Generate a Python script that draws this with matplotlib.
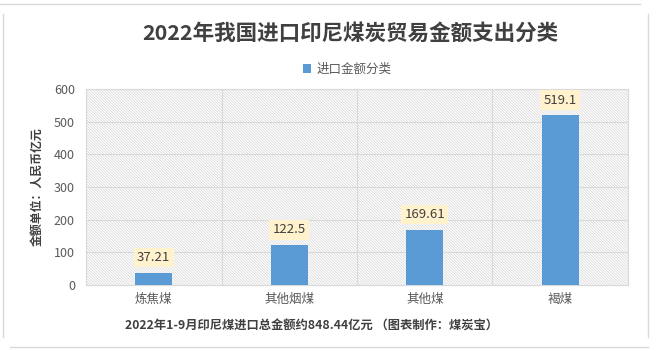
import matplotlib.pyplot as plt
from matplotlib.patches import Rectangle
from matplotlib.lines import Line2D

plt.rcParams['font.family'] = ['Noto Sans CJK SC', 'DejaVu Sans']
plt.rcParams['hatch.linewidth'] = 0.5
plt.rcParams['hatch.color'] = '#d4d4d4'

categories = ['炼焦煤', '其他烟煤', '其他煤', '褐煤']
values = [37.21, 122.5, 169.61, 519.1]
value_labels = ['37.21', '122.5', '169.61', '519.1']
yticks = [0, 100, 200, 300, 400, 500, 600]

W, H = 660, 351
fig = plt.figure(figsize=(W / 100, H / 100), dpi=100)

def fx(px): return px / W
def fy(py): return 1 - py / H

# card frame
for xs, ys in [((0, 640), (4, 4)), ((3, 3), (14, 337)), ((648, 648), (14, 337)),
               ((10, 648), (347, 347))]:
    fig.add_artist(Line2D([fx(x) for x in xs], [fy(y) for y in ys],
                          color='#d9d9d9', lw=1))

ax = fig.add_axes([fx(86), fy(285), fx(628 - 86), (285 - 89) / H])
ax.add_patch(Rectangle((0, 0), 1, 1, transform=ax.transAxes, facecolor='white',
                       edgecolor='#d4d4d4', hatch='\\' * 12, lw=0, zorder=0))

x = range(len(categories))
ax.bar(x, values, width=0.27, color='#5b9bd5', zorder=3, label='进口金额分类')
ax.set_xlim(-0.5, len(categories) - 0.5)
ax.set_ylim(0, 600)
ax.set_yticks(yticks)
for y in yticks[1:]:
    ax.axhline(y, color='#d9d9d9', lw=0.8, zorder=1)
for b in [0.5, 1.5, 2.5]:
    ax.axvline(b, color='#d9d9d9', lw=0.8, zorder=1)
for s in ax.spines.values():
    s.set_color('#d9d9d9')
    s.set_linewidth(0.8)
ax.set_xticks(list(x))
ax.set_xticklabels(categories)
ax.tick_params(length=0, colors='#595959', labelsize=9, pad=6)
ax.tick_params(axis='y', pad=8)

for i, (v, t) in enumerate(zip(values, value_labels)):
    ax.annotate(t, (i, v), xytext=(0, 11), textcoords='offset points',
                ha='center', va='center', fontsize=9.5, color='#404040', zorder=5,
                bbox=dict(boxstyle='square,pad=0.25', facecolor='#fff2cc', edgecolor='none'))

fig.text(fx(350), fy(33), '2022年我国进口印尼煤炭贸易金额支出分类', ha='center', va='center',
         fontsize=15.5, fontweight='bold', color='#404040')
ax.legend(loc='center', bbox_to_anchor=(fx(347), fy(69)), bbox_transform=fig.transFigure,
          frameon=False, fontsize=9, handlelength=0.7, handleheight=0.7,
          handletextpad=0.4, labelcolor='#595959')
fig.text(fx(37), fy(187), '金额单位：人民币亿元', rotation=90, ha='center', va='center',
         fontsize=8.6, fontweight='bold', color='#404040')
fig.text(fx(125), fy(326), '2022年1-9月印尼煤进口总金额约848.44亿元 （图表制作：煤炭宝）',
         ha='left', va='center', fontsize=8.85, fontweight='bold', color='#404040')

fig.savefig('out.png', dpi=100)
